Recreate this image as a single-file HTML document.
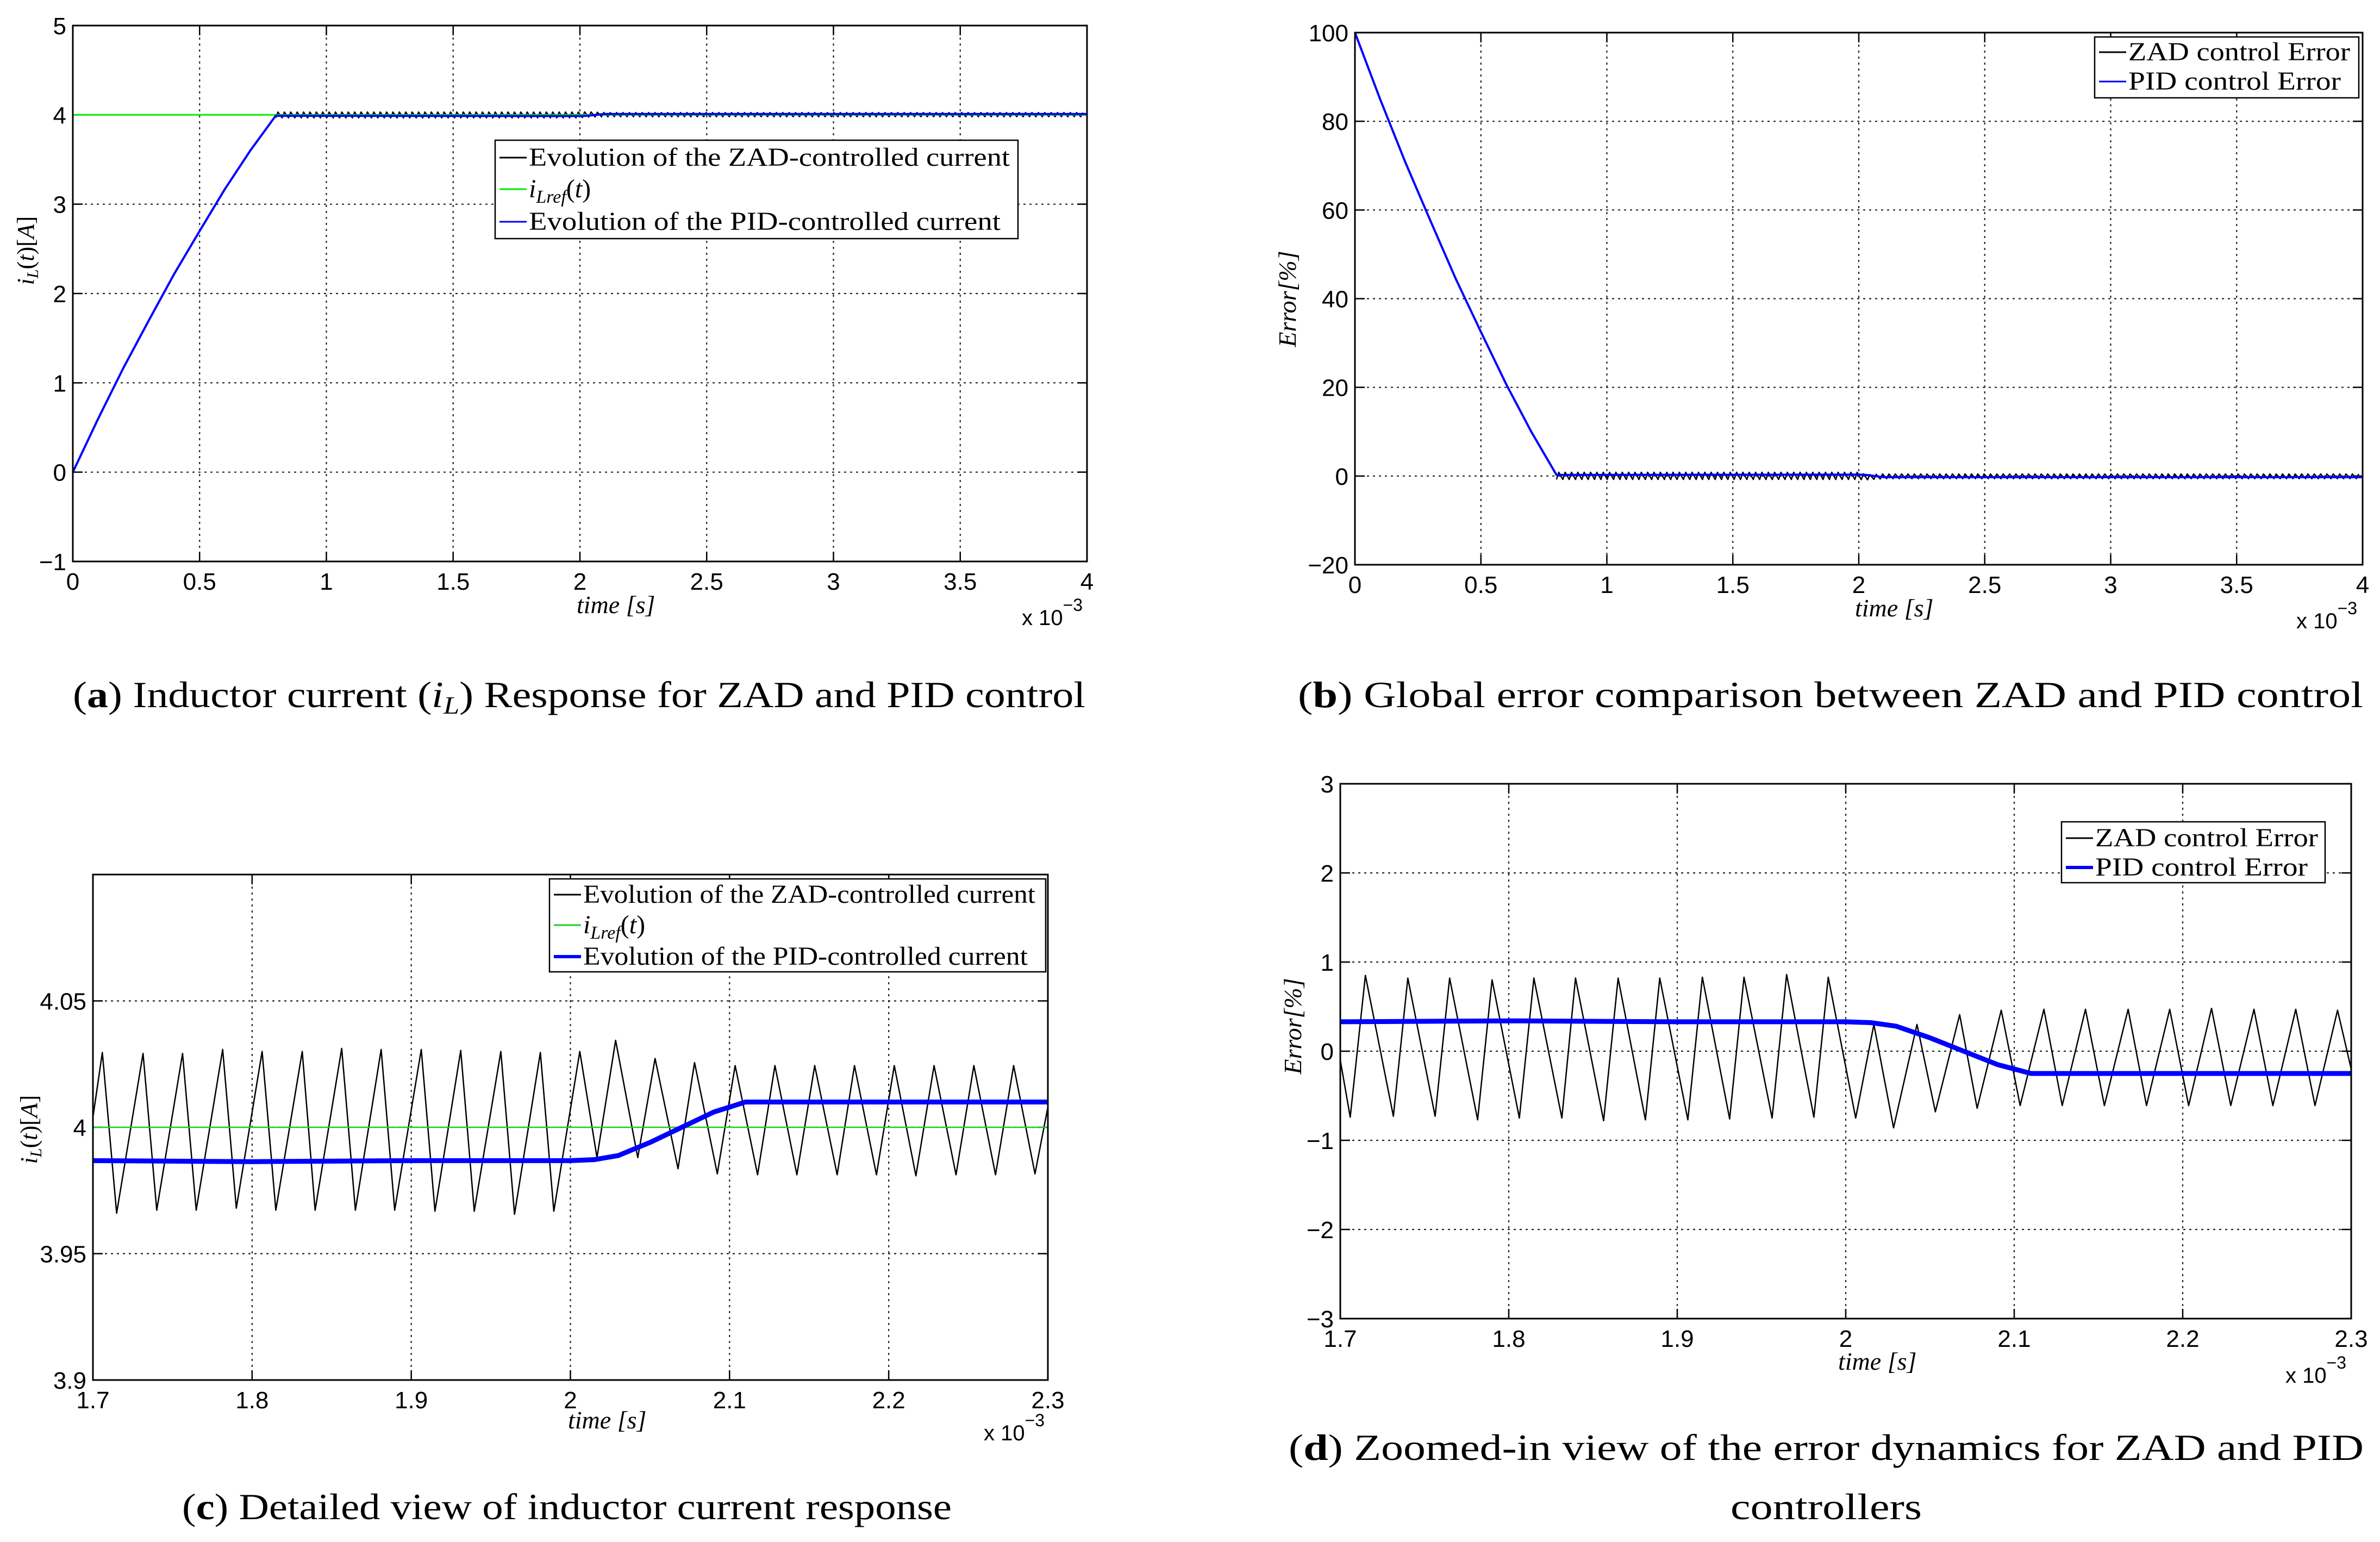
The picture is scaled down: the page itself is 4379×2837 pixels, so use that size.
<!DOCTYPE html>
<html><head><meta charset="utf-8"><title>ZAD vs PID</title>
<style>
html,body{margin:0;padding:0;background:#fff;}
svg{display:block;}
</style></head>
<body>
<svg id="fig" xmlns="http://www.w3.org/2000/svg" width="4379" height="2837" viewBox="0 0 4379 2837">
<rect width="4379" height="2837" fill="#fff"/>
</svg>
<script>
// ---------- DATA ----------
const pidA_t = [0, 0.1, 0.2, 0.3, 0.4, 0.5, 0.6, 0.7, 0.8, 2.0, 2.02, 2.05, 2.08, 2.1, 4.0];
const pidA_v = [0, 0.6, 1.17, 1.7, 2.22, 2.7, 3.17, 3.6, 3.99, 3.987, 3.988, 3.996, 4.005, 4.01, 4.01];
const refA_t = [0, 4.0];
const refA_v = [4, 4];
const zadA_t = [0.8, 2.0, 2.03, 2.1, 4.0];
const zadA_hi = [4.031, 4.031, 4.034, 4.025, 4.025];
const zadA_lo = [3.967, 3.967, 3.975, 3.98, 3.98];
const zadPeriodMs = [0.0252];
const errB_hi = [0.85, 0.85, 0.3, 0.47, 0.47];
const errB_lo = [-0.77, -0.77, -0.86, -0.6, -0.6];

const zadD_t = [1.700,1.7059,1.7149,1.7315,1.7401,1.7563,1.7649,1.7815,1.7901,1.8063,1.8149,1.8315,1.8396,1.8563,1.8649,1.8811,1.8896,1.9063,1.9149,1.9311,1.9396,1.9563,1.9649,1.9811,1.9896,2.0059,2.0167,2.0284,2.0423,2.0532,2.0676,2.0780,2.0923,2.1035,2.1176,2.1285,2.1423,2.1535,2.1676,2.1785,2.1923,2.2035,2.2171,2.2285,2.2423,2.2535,2.2671,2.2785,2.2919,2.300];
const zadD_e = [-0.1,-0.74,0.85,-0.73,0.82,-0.73,0.82,-0.77,0.80,-0.75,0.82,-0.75,0.82,-0.78,0.82,-0.77,0.82,-0.77,0.83,-0.76,0.83,-0.75,0.86,-0.74,0.83,-0.75,0.30,-0.86,0.30,-0.68,0.41,-0.64,0.46,-0.61,0.47,-0.61,0.47,-0.61,0.47,-0.61,0.47,-0.61,0.48,-0.61,0.47,-0.61,0.47,-0.61,0.46,-0.2];
const pidD_t = [1.7, 1.8, 1.9, 2.0, 2.015, 2.03, 2.05, 2.07, 2.09, 2.11, 2.2, 2.3];
const pidD_e = [0.33, 0.34, 0.33, 0.33, 0.32, 0.28, 0.15, 0.0, -0.15, -0.25, -0.25, -0.25];
const refC_v = [4];

const xTickA = ["0","0.5","1","1.5","2","2.5","3","3.5","4"];
const yTickA = ["\u22121","0","1","2","3","4","5"];
const yTickB = ["\u221220","0","20","40","60","80","100"];
const xTickC = ["1.7","1.8","1.9","2","2.1","2.2","2.3"];
const yTickC = ["3.9","3.95","4","4.05"];
const yTickD = ["\u22123","\u22122","\u22121","0","1","2","3"];

// ---------- RENDER ----------
const NS = "http://www.w3.org/2000/svg";
const svg = document.getElementById("fig");
function el(tag, attrs, parent){
  const e = document.createElementNS(NS, tag);
  for (const k in attrs) e.setAttribute(k, attrs[k]);
  (parent||svg).appendChild(e);
  return e;
}
const num = s => parseFloat(s.replace("\u2212","-"));

function makePanel(cfg){
  const g = el("g", {});
  
  
  const sx = v => cfg.x0 + (v - cfg.xd[0])/(cfg.xd[1]-cfg.xd[0])*(cfg.x1-cfg.x0);
  const sy = v => cfg.y1 - (v - cfg.yd[0])/(cfg.yd[1]-cfg.yd[0])*(cfg.y1-cfg.y0);
  const grid = el("g", {stroke:"#222","stroke-width":2.2,"stroke-dasharray":"4 7",fill:"none"}, g);
  
  
  cfg.xt.forEach(l => { const x = sx(num(l)); if (x>cfg.x0+3 && x<cfg.x1-3) el("line",{x1:x,x2:x,y1:cfg.y0,y2:cfg.y1},grid); });
  cfg.yt.forEach(l => { const y = sy(num(l)); if (y>cfg.y0+3 && y<cfg.y1-3) el("line",{x1:cfg.x0,x2:cfg.x1,y1:y,y2:y},grid); });
  const tk = el("g",{stroke:"#000","stroke-width":2.5},g);
  cfg.xt.forEach(l => { const x = sx(num(l));
    el("line",{x1:x,x2:x,y1:cfg.y1,y2:cfg.y1-18},tk); el("line",{x1:x,x2:x,y1:cfg.y0,y2:cfg.y0+18},tk);
    const t = el("text",{x:x,y:cfg.y1+52,"font-family":"Liberation Sans, sans-serif","font-size":44,"text-anchor":"middle"},g);
    
    
    t.textContent = l; });
  cfg.yt.forEach(l => { const y = sy(num(l));
    el("line",{x1:cfg.x0,x2:cfg.x0+18,y1:y,y2:y},tk); el("line",{x1:cfg.x1,x2:cfg.x1-18,y1:y,y2:y},tk);
    const t = el("text",{x:cfg.x0-12,y:y+16,"font-family":"Liberation Sans, sans-serif","font-size":44,"text-anchor":"end"},g);
    
    
    t.textContent = l; });
  return {g, sx, sy};
}
function poly(P, ts, vs, attrs, name){
  const pts = ts.map((t,i)=> P.sx(t).toFixed(1)+","+P.sy(vs[i]).toFixed(1)).join(" ");
  const e = el("polyline", Object.assign({points:pts, fill:"none","stroke-linejoin":"round"}, attrs), P.g);
  
  
  return e;
}
function interp(ts, vs, t){
  if (t<=ts[0]) return vs[0];
  for (let i=1;i<ts.length;i++) if (t<=ts[i]) return vs[i-1]+(vs[i]-vs[i-1])*(t-ts[i-1])/(ts[i]-ts[i-1]);
  return vs[vs.length-1];
}
function zigzag(P, envT, hi, lo, tEnd, name, attrs){
  const ts=[], vs=[]; const per = zadPeriodMs[0];
  for (let t=envT[0]; t<tEnd; t+=per){
    ts.push(t); vs.push(interp(envT,lo,t));
    const tp=t+0.36*per; if (tp<tEnd){ ts.push(tp); vs.push(interp(envT,hi,tp)); }
  }
  return poly(P, ts, vs, attrs, name);
}
function box(cfg, P){
  const r = el("rect",{x:cfg.x0,y:cfg.y0,width:cfg.x1-cfg.x0,height:cfg.y1-cfg.y0,fill:"none",stroke:"#000","stroke-width":3},P.g);
  
  
}
function text(P, x, y, str, attrs, name){
  const t = el("text", Object.assign({x:x,y:y}, attrs), P? P.g : svg);
  
  
  t.innerHTML = str;
  return t;
}
function legend(P, bx, by, bw, bh, rows, name){
  const g = el("g",{},P.g);
  
  
  el("rect",{x:bx,y:by,width:bw,height:bh,fill:"#fff",stroke:"#000","stroke-width":2.5},g);
  rows.forEach(r => {
    el("line",{x1:bx+8,x2:bx+58,y1:r.y,y2:r.y,stroke:r.color,"stroke-width":r.w},g);
    const at = {x:bx+62,y:r.y+15,"font-family":"Liberation Serif, serif","font-size":48};
    if (r.len){ at.textLength = r.len; at.lengthAdjust = "spacingAndGlyphs"; }
    const t = el("text",at,g);
    
    
    t.innerHTML = r.label;
  });
}
const mathLbl = {"font-family":"Liberation Serif, serif","font-size":46,"font-style":"italic"};
const refLbl = '<tspan font-style="italic">i</tspan><tspan font-style="italic" font-size="34" dy="10">Lref</tspan><tspan dy="-10">(</tspan><tspan font-style="italic">t</tspan>)';

// ----- Panel A -----
const cA = {name:"panel-a-inductor-current",x0:134,x1:2000,y0:47,y1:1033,xd:[0,4],yd:[-1,5],xt:xTickA,yt:yTickA};
const A = makePanel(cA);
zigzag(A, zadA_t, zadA_hi, zadA_lo, 4.0, "zad-current-line", {stroke:"#000","stroke-width":2.5});
poly(A, refA_t, refA_v, {stroke:"#00ee00","stroke-width":3}, "reference-current-line");
poly(A, pidA_t, pidA_v, {stroke:"#0000ff","stroke-width":4}, "pid-current-line");
box(cA, A);
legend(A, 911, 258, 962, 181, [
  {y:290,color:"#000",w:3,len:885,label:"Evolution of the ZAD-controlled current"},
  {y:348,color:"#00ee00",w:3,label:refLbl},
  {y:408,color:"#0000ff",w:3,len:868,label:"Evolution of the PID-controlled current"}], "legend-a");
text(A, 1061, 1128, 'time [s]', mathLbl, "x-axis-title");
text(A, 1880, 1150, 'x 10<tspan font-size="32" dy="-26">\u22123</tspan>', {"font-family":"Liberation Sans, sans-serif","font-size":40}, "x-axis-exponent");
text(A, 0, 0, '<tspan font-style="italic">i</tspan><tspan font-style="italic" font-size="30" dy="8">L</tspan><tspan dy="-8">(</tspan><tspan font-style="italic">t</tspan>)[<tspan font-style="italic">A</tspan>]', {"font-family":"Liberation Serif, serif","font-size":44,"text-anchor":"middle",transform:"translate(62,461) rotate(-90)"}, "y-axis-title");

// ----- Panel B -----
const cB = {name:"panel-b-global-error",x0:2493,x1:4347,y0:60,y1:1039,xd:[0,4],yd:[-20,100],xt:xTickA,yt:yTickB};
const B = makePanel(cB);
const errB_t = zadA_t;
const pidB_e = pidA_v.map(v => (refA_v[0]-v)/refA_v[0]*100);
zigzag(B, errB_t, errB_hi, errB_lo, 4.0, "zad-error-line", {stroke:"#000","stroke-width":2.5});
poly(B, pidA_t, pidB_e, {stroke:"#0000ff","stroke-width":4}, "pid-error-line");
box(cB, B);
legend(B, 3854, 68, 486, 112, [
  {y:96,color:"#000",w:3,len:408,label:"ZAD control Error"},
  {y:150,color:"#0000ff",w:3,len:391,label:"PID control Error"}], "legend-b");
text(B, 3413, 1134, 'time [s]', mathLbl, "x-axis-title");
text(B, 4225, 1156, 'x 10<tspan font-size="32" dy="-26">\u22123</tspan>', {"font-family":"Liberation Sans, sans-serif","font-size":40}, "x-axis-exponent");
text(B, 0, 0, 'Error[%]', {"font-family":"Liberation Serif, serif","font-size":46,"font-style":"italic","text-anchor":"middle",transform:"translate(2384,550) rotate(-90)"}, "y-axis-title");

// ----- Panel C -----
const cC = {name:"panel-c-current-detail",x0:171,x1:1928,y0:1609,y1:2539,xd:[1.7,2.3],yd:[3.9,4.1],xt:xTickC,yt:yTickC};
const C = makePanel(cC);
const zadC_v = zadD_e.map(e => refC_v[0]*(1-e/100));
const pidC_v = pidD_e.map(e => refC_v[0]*(1-e/100));
poly(C, zadD_t, zadC_v, {stroke:"#000","stroke-width":2.5}, "zad-current-line");
poly(C, [1.7,2.3], [refC_v[0],refC_v[0]], {stroke:"#22cc22","stroke-width":2.5}, "reference-current-line");
poly(C, pidD_t, pidC_v, {stroke:"#0000ff","stroke-width":9}, "pid-current-line");
box(cC, C);
legend(C, 1011, 1617, 913, 171, [
  {y:1646,color:"#000",w:3,len:832,label:"Evolution of the ZAD-controlled current"},
  {y:1702,color:"#22cc22",w:3,label:refLbl},
  {y:1760,color:"#0000ff",w:6,len:818,label:"Evolution of the PID-controlled current"}], "legend-c");
text(C, 1045, 2628, 'time [s]', mathLbl, "x-axis-title");
text(C, 1810, 2650, 'x 10<tspan font-size="32" dy="-26">\u22123</tspan>', {"font-family":"Liberation Sans, sans-serif","font-size":40}, "x-axis-exponent");
text(C, 0, 0, '<tspan font-style="italic">i</tspan><tspan font-style="italic" font-size="30" dy="8">L</tspan><tspan dy="-8">(</tspan><tspan font-style="italic">t</tspan>)[<tspan font-style="italic">A</tspan>]', {"font-family":"Liberation Serif, serif","font-size":44,"text-anchor":"middle",transform:"translate(68,2078) rotate(-90)"}, "y-axis-title");

// ----- Panel D -----
const cD = {name:"panel-d-error-detail",x0:2466,x1:4326,y0:1442,y1:2426,xd:[1.7,2.3],yd:[-3,3],xt:xTickC,yt:yTickD};
const D = makePanel(cD);
poly(D, zadD_t, zadD_e, {stroke:"#000","stroke-width":2.5}, "zad-error-line");
poly(D, pidD_t, pidD_e, {stroke:"#0000ff","stroke-width":9}, "pid-error-line");
box(cD, D);
legend(D, 3793, 1512, 485, 112, [
  {y:1542,color:"#000",w:3,len:410,label:"ZAD control Error"},
  {y:1596,color:"#0000ff",w:6,len:391,label:"PID control Error"}], "legend-d");
text(D, 3382, 2520, 'time [s]', mathLbl, "x-axis-title");
text(D, 4205, 2544, 'x 10<tspan font-size="32" dy="-26">\u22123</tspan>', {"font-family":"Liberation Sans, sans-serif","font-size":40}, "x-axis-exponent");
text(D, 0, 0, 'Error[%]', {"font-family":"Liberation Serif, serif","font-size":46,"font-style":"italic","text-anchor":"middle",transform:"translate(2394,1888) rotate(-90)"}, "y-axis-title");

// ----- Captions -----
const cap = {"font-family":"Liberation Serif, serif","font-size":68,"lengthAdjust":"spacingAndGlyphs"};
text(null, 134, 1301, '(<tspan font-weight="bold">a</tspan>) Inductor current (<tspan font-style="italic">i</tspan><tspan font-style="italic" font-size="46" dy="12">L</tspan><tspan dy="-12">) Response for ZAD and PID control</tspan>', Object.assign({textLength:1863},cap), "caption-a");
text(null, 2388, 1301, '(<tspan font-weight="bold">b</tspan>) Global error comparison between ZAD and PID control', Object.assign({textLength:1960},cap), "caption-b");
text(null, 335, 2795, '(<tspan font-weight="bold">c</tspan>) Detailed view of inductor current response', Object.assign({textLength:1416},cap), "caption-c");
text(null, 2371, 2686, '(<tspan font-weight="bold">d</tspan>) Zoomed-in view of the error dynamics for ZAD and PID', Object.assign({textLength:1978},cap), "caption-d-line1");
text(null, 3184, 2795, 'controllers', Object.assign({textLength:352},cap), "caption-d-line2");
</script>
</body></html>
